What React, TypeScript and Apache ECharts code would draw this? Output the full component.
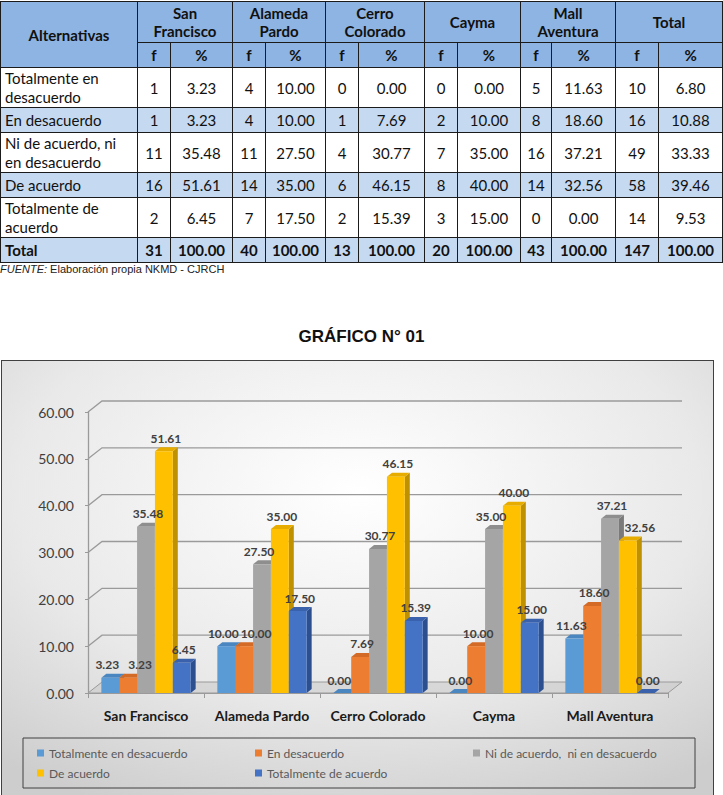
import React, { useEffect, useRef } from 'react';
import * as echarts from 'echarts';

// ---------- DATA ----------
const locations = ['San Francisco', 'Alameda Pardo', 'Cerro Colorado', 'Cayma', 'Mall Aventura'];
const tableGroups = [['San', 'Francisco'], ['Alameda', 'Pardo'], ['Cerro', 'Colorado'], ['Cayma'], ['Mall', 'Aventura'], ['Total']];
const alternativeLines = [
  ['Totalmente en', 'desacuerdo'],
  ['En desacuerdo'],
  ['Ni de acuerdo, ni', 'en desacuerdo'],
  ['De acuerdo'],
  ['Totalmente de', 'acuerdo'],
];
const legendNames = ['Totalmente en desacuerdo', 'En desacuerdo', 'Ni de acuerdo,  ni en desacuerdo', 'De acuerdo', 'Totalmente de acuerdo'];

const sanFranciscoF = [1, 1, 11, 16, 2];
const sanFranciscoP = [3.23, 3.23, 35.48, 51.61, 6.45];
const alamedaF = [4, 4, 11, 14, 7];
const alamedaP = [10.0, 10.0, 27.5, 35.0, 17.5];
const cerroF = [0, 1, 4, 6, 2];
const cerroP = [0.0, 7.69, 30.77, 46.15, 15.39];
const caymaF = [0, 2, 7, 8, 3];
const caymaP = [0.0, 10.0, 35.0, 40.0, 15.0];
const mallF = [5, 8, 16, 14, 0];
const mallP = [11.63, 18.6, 37.21, 32.56, 0.0];
const totalF = [10, 16, 49, 58, 14];
const totalP = [6.8, 10.88, 33.33, 39.46, 9.53];
const groupTotalsF = [31, 40, 13, 20, 43, 147];
const groupTotalsP = [100, 100, 100, 100, 100, 100];

const yTicks = [0, 10, 20, 30, 40, 50, 60];

const freqCols = [sanFranciscoF, alamedaF, cerroF, caymaF, mallF, totalF];
const pctCols = [sanFranciscoP, alamedaP, cerroP, caymaP, mallP, totalP];
const chartPct = [sanFranciscoP, alamedaP, cerroP, caymaP, mallP];

// ---------- STYLE ----------
const frontColors = ['#5B9BD5', '#ED7D31', '#A5A5A5', '#FFC000', '#4472C4'];
const sideColors = ['#3E75A8', '#B65A1E', '#7A7A7A', '#BF9000', '#2C4F8F'];
const topColors = ['#4A86C0', '#D36A25', '#8E8E8E', '#E6AC00', '#3A62AC'];
const colWidths = [137, 33, 62, 33, 60, 33, 66, 33, 63, 31, 64, 43, 64];
const rowHeights = [40, 25, 40, 25, 40];
const headBlue = '#8DB4E2';
const bandBlue = '#C5D9F1';

const FONT = 'Lato, "Open Sans", sans-serif';
const DX = 14;
const DY = 11;

function labelShift(vals: number[], s: number): number {
  let shift = 0;
  if (s > 0 && vals[s - 1] >= vals[s] && vals[s - 1] - vals[s] < 6) shift += 10;
  else if (s < vals.length - 1 && vals[s + 1] >= vals[s] && vals[s + 1] - vals[s] < 8) shift -= 5;
  return shift;
}

function Table() {
  const cell: React.CSSProperties = {
    border: '1.5px solid #1b1b1b',
    textAlign: 'center',
    verticalAlign: 'middle',
    padding: 0,
    fontSize: 15,
    color: '#111',
  };
  return (
    <table
      style={{
        position: 'absolute',
        top: 1,
        left: 0,
        width: 722,
        borderCollapse: 'collapse',
        tableLayout: 'fixed',
        fontFamily: FONT,
      }}
    >
      <colgroup>
        {colWidths.map((w, i) => (
          <col key={i} style={{ width: w }} />
        ))}
      </colgroup>
      <tbody>
        <tr style={{ height: 41 }}>
          <th rowSpan={2} style={{ ...cell, background: headBlue, fontWeight: 700 }}>Alternativas</th>
          {tableGroups.map((g, i) => (
            <th key={i} colSpan={2} style={{ ...cell, background: headBlue, fontWeight: 700, lineHeight: '18px' }}>
              {g.map((t, j) => (
                <React.Fragment key={j}>
                  {j > 0 && <br />}
                  {t}
                </React.Fragment>
              ))}
            </th>
          ))}
        </tr>
        <tr style={{ height: 25 }}>
          {tableGroups.map((_, i) => (
            <React.Fragment key={i}>
              <th style={{ ...cell, background: headBlue, fontWeight: 700 }}>f</th>
              <th style={{ ...cell, background: headBlue, fontWeight: 700 }}>%</th>
            </React.Fragment>
          ))}
        </tr>
        {alternativeLines.map((lines, r) => {
          const bg = r % 2 === 1 ? bandBlue : '#ffffff';
          return (
            <tr key={r} style={{ height: rowHeights[r] }}>
              <td style={{ ...cell, background: bg, textAlign: 'left', padding: '0 4px', lineHeight: '19px', whiteSpace: 'nowrap' }}>
                {lines.map((t, j) => (
                  <React.Fragment key={j}>
                    {j > 0 && <br />}
                    {t}
                  </React.Fragment>
                ))}
              </td>
              {freqCols.map((fc, c) => (
                <React.Fragment key={c}>
                  <td style={{ ...cell, background: bg }}>{fc[r]}</td>
                  <td style={{ ...cell, background: bg }}>{pctCols[c][r].toFixed(2)}</td>
                </React.Fragment>
              ))}
            </tr>
          );
        })}
        <tr style={{ height: 25 }}>
          <td style={{ ...cell, background: bandBlue, textAlign: 'left', padding: '0 4px', fontWeight: 700 }}>Total</td>
          {groupTotalsF.map((f, c) => (
            <React.Fragment key={c}>
              <td style={{ ...cell, background: bandBlue, fontWeight: 700 }}>{f}</td>
              <td style={{ ...cell, background: bandBlue, fontWeight: 700 }}>{groupTotalsP[c].toFixed(2)}</td>
            </React.Fragment>
          ))}
        </tr>
      </tbody>
    </table>
  );
}

function Chart() {
  const ref = useRef<HTMLDivElement>(null);
  useEffect(() => {
    if (!ref.current) return;
    const chart = echarts.init(ref.current, null, { renderer: 'svg' });

    const gridSeries: any = {
      type: 'custom',
      name: '__grid',
      z: 1,
      silent: true,
      data: yTicks.map((v) => [0, v]),
      encode: { x: 0, y: 1 },
      renderItem: (params: any, api: any) => {
        const cs = params.coordSys;
        const v = api.value(1);
        const y = api.coord([0, v])[1];
        const children: any[] = [];
        if (v === 0) {
          children.push({
            type: 'polygon',
            shape: {
              points: [
                [cs.x, y],
                [cs.x + DX, y - DY],
                [cs.x + cs.width + DX, y - DY],
                [cs.x + cs.width, y],
              ],
            },
            style: { fill: 'rgba(200,200,200,0.55)', stroke: '#9a9a9a', lineWidth: 1 },
          });
        } else {
          children.push({
            type: 'polyline',
            shape: {
              points: [
                [cs.x, y],
                [cs.x + DX, y - DY],
                [cs.x + cs.width + DX, y - DY],
              ],
            },
            style: { stroke: '#9a9a9a', lineWidth: 1.3, fill: null },
          });
        }
        return { type: 'group', children };
      },
    };

    const barSeries = legendNames.map((name, s) => ({
      type: 'custom',
      name,
      z: 2,
      itemStyle: { color: frontColors[s] },
      data: locations.map((_, i) => [i, chartPct[i][s]]),
      encode: { x: 0, y: 1 },
      renderItem: (params: any, api: any) => {
        const cat = api.value(0);
        const val = api.value(1);
        const band = api.size([1, 0])[0];
        const groupW = band * 0.77;
        const barW = groupW / 5;
        const base = api.coord([cat, 0]);
        const top = api.coord([cat, val]);
        const x = base[0] - groupW / 2 + s * barW;
        const yb = base[1];
        const yt = top[1];
        const d = 5;
        const dh = 4;
        const shift = labelShift(chartPct[cat], s);
        return {
          type: 'group',
          children: [
            {
              type: 'polygon',
              shape: { points: [[x + barW, yt], [x + barW + d, yt - dh], [x + barW + d, yb - dh], [x + barW, yb]] },
              style: { fill: sideColors[s] },
            },
            {
              type: 'polygon',
              shape: { points: [[x, yt], [x + d, yt - dh], [x + barW + d, yt - dh], [x + barW, yt]] },
              style: { fill: topColors[s] },
            },
            {
              type: 'rect',
              shape: { x, y: yt, width: barW, height: Math.max(yb - yt, 0) },
              style: { fill: frontColors[s] },
            },
            {
              type: 'text',
              z2: 100,
              style: {
                text: val.toFixed(2),
                x: x + barW / 2 + 2 + shift,
                y: yt - dh - 3,
                align: 'center',
                verticalAlign: 'bottom',
                font: `bold 12px ${FONT}`,
                fill: '#404040',
              },
            },
          ],
        };
      },
    }));

    chart.setOption({
      animation: false,
      backgroundColor: new echarts.graphic.RadialGradient(0.5, 0.3, 0.8, [
        { offset: 0, color: '#ffffff' },
        { offset: 0.6, color: '#e9e9e9' },
        { offset: 1, color: '#cdcdcd' },
      ]),
      textStyle: { fontFamily: FONT },
      grid: { left: 86, right: 45, top: 51, bottom: 102 },
      xAxis: {
        type: 'category',
        data: locations,
        axisLine: { show: true, lineStyle: { color: '#9a9a9a', width: 1 } },
        axisTick: { show: true, length: 5, lineStyle: { color: '#9a9a9a' } },
        axisLabel: { interval: 0, margin: 15, fontSize: 14, fontWeight: 'bold', color: '#1a1a1a', fontFamily: FONT },
        splitLine: { show: false },
      },
      yAxis: {
        type: 'value',
        min: 0,
        max: 60,
        interval: 10,
        axisLine: { show: true, lineStyle: { color: '#9a9a9a', width: 1.3 } },
        axisTick: { show: true, length: 3, lineStyle: { color: '#9a9a9a' } },
        axisLabel: {
          margin: 14,
          fontSize: 14,
          color: '#404040',
          fontFamily: FONT,
          formatter: (v: number) => v.toFixed(2),
        },
        splitLine: { show: false },
      },
      legend: {
        data: legendNames,
        left: 21,
        top: 377,
        width: 656,
        padding: [5, 4, 5, 14],
        itemGap: 0,
        itemWidth: 7,
        itemHeight: 7,
        icon: 'rect',
        borderColor: '#404040',
        borderWidth: 1,
        textStyle: { width: 206, fontSize: 12, color: '#595959', lineHeight: 20, fontFamily: FONT },
      },
      series: [gridSeries, ...barSeries],
    });
    return () => chart.dispose();
  }, []);
  return <div ref={ref} style={{ width: 711, height: 434 }} />;
}

export default function App() {
  useEffect(() => {
    document.body.style.margin = '0';
  }, []);
  return (
    <div style={{ position: 'relative', width: 723, height: 795, overflow: 'hidden', background: '#fff' }}>
      <Table />
      <div
        style={{
          position: 'absolute',
          top: 263,
          left: 0,
          fontFamily: '"Liberation Sans", Arial, sans-serif',
          fontSize: 11,
          color: '#222',
        }}
      >
        <i>FUENTE:</i> Elaboración propia NKMD - CJRCH
      </div>
      <div
        style={{
          position: 'absolute',
          top: 327,
          left: 0,
          width: 723,
          textAlign: 'center',
          fontFamily: '"Liberation Sans", Arial, sans-serif',
          fontWeight: 700,
          fontSize: 17,
          color: '#111',
        }}
      >
        GRÁFICO N° 01
      </div>
      <div
        style={{
          position: 'absolute',
          top: 360,
          left: 1,
          border: '1px solid #404040',
          width: 711,
          height: 434,
        }}
      >
        <Chart />
      </div>
    </div>
  );
}
